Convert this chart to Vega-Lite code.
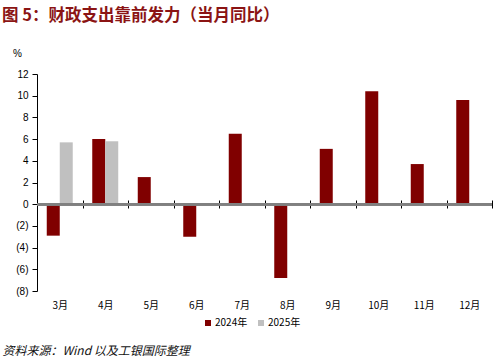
{
  "$schema": "https://vega.github.io/schema/vega-lite/v6.json",
  "width": 455,
  "height": 217,
  "autosize": {"type": "none"},
  "padding": {"left": 37, "top": 74, "right": 5, "bottom": 71},
  "background": "white",
  "config": {
    "view": {"stroke": null},
    "font": "Noto Sans CJK SC",
    "axis": {"labelOverlap": false}
  },
  "title": {
    "text": "图 5：财政支出靠前发力（当月同比）",
    "anchor": "start",
    "frame": "group",
    "dx": -35,
    "offset": 24,
    "fontSize": 16.5,
    "fontWeight": "bold",
    "color": "#8B1414",
    "font": "Noto Sans CJK SC"
  },
  "data": {
    "values": [
      {"month": "3月", "series": "2024年", "value": -2.9},
      {"month": "3月", "series": "2025年", "value": 5.7},
      {"month": "4月", "series": "2024年", "value": 6.0},
      {"month": "4月", "series": "2025年", "value": 5.8},
      {"month": "5月", "series": "2024年", "value": 2.5},
      {"month": "6月", "series": "2024年", "value": -3.0},
      {"month": "7月", "series": "2024年", "value": 6.5},
      {"month": "8月", "series": "2024年", "value": -6.8},
      {"month": "9月", "series": "2024年", "value": 5.1},
      {"month": "10月", "series": "2024年", "value": 10.4},
      {"month": "11月", "series": "2024年", "value": 3.7},
      {"month": "12月", "series": "2024年", "value": 9.6}
    ]
  },
  "layer": [
    {
      "mark": {"type": "bar"},
      "encoding": {
        "x": {
          "field": "month",
          "type": "nominal",
          "sort": ["3月","4月","5月","6月","7月","8月","9月","10月","11月","12月"],
          "scale": {"paddingInner": 0, "paddingOuter": 0},
          "axis": {
            "title": "资料来源：Wind 以及工银国际整理",
            "titleX": -35,
            "titleY": 150,
            "titleAlign": "left",
            "titleBaseline": "middle",
            "titleAnchor": "start",
            "titleFontSize": 12,
            "titleFontWeight": "normal",
            "titleFontStyle": "italic",
            "titleColor": "#111111",
            "offset": -91,
            "domain": false,
            "ticks": true,
            "tickBand": "extent",
            "tickSize": 8,
            "tickColor": "#000000",
            "tickWidth": 1,
            "labelAngle": 0,
            "labelPadding": 92,
            "labelFontSize": 10,
            "labelColor": "#000000"
          }
        },
        "xOffset": {
          "field": "series",
          "type": "nominal",
          "scale": {"domain": ["2024年", "2025年"], "paddingOuter": 0.75, "paddingInner": 0}
        },
        "y": {
          "field": "value",
          "type": "quantitative",
          "scale": {"domain": [-8, 12], "nice": false, "zero": false},
          "axis": {
            "title": "%",
            "titleAngle": 0,
            "titleX": -20,
            "titleY": -21,
            "titleAlign": "center",
            "titleBaseline": "middle",
            "titleFont": "Liberation Sans",
            "titleFontSize": 10,
            "titleFontWeight": "normal",
            "titleColor": "#000000",
            "values": [-8, -6, -4, -2, 0, 2, 4, 6, 8, 10, 12],
            "labelExpr": "datum.value < 0 ? '(' + abs(datum.value) + ')' : datum.label",
            "labelOverlap": false,
            "grid": false,
            "domainColor": "#000000",
            "tickColor": "#000000",
            "tickSize": 5,
            "labelPadding": 4,
            "labelFont": "Liberation Sans",
            "labelFontSize": 10,
            "labelColor": "#000000"
          }
        },
        "color": {
          "field": "series",
          "type": "nominal",
          "scale": {"domain": ["2024年", "2025年"], "range": ["#800000", "#C0C0C0"]},
          "legend": {
            "title": null,
            "orient": "none",
            "legendX": 166,
            "legendY": 244,
            "direction": "horizontal",
            "symbolType": "square",
            "symbolSize": 36,
            "symbolStrokeWidth": 0,
            "labelFontSize": 10,
            "labelColor": "#000000",
            "labelOffset": 2,
            "columnPadding": 8
          }
        }
      }
    },
    {
      "mark": {"type": "rule", "color": "#808080", "strokeWidth": 2},
      "encoding": {
        "y": {
          "datum": 0,
          "type": "quantitative",
          "axis": {
            "title": "%",
            "titleAngle": 0,
            "titleX": -20,
            "titleY": -21,
            "titleAlign": "center",
            "titleBaseline": "middle",
            "titleFont": "Liberation Sans",
            "titleFontSize": 10,
            "titleFontWeight": "normal",
            "titleColor": "#000000",
            "values": [-8, -6, -4, -2, 0, 2, 4, 6, 8, 10, 12],
            "labelExpr": "datum.value < 0 ? '(' + abs(datum.value) + ')' : datum.label",
            "labelOverlap": false,
            "grid": false,
            "domainColor": "#000000",
            "tickColor": "#000000",
            "tickSize": 5,
            "labelPadding": 4,
            "labelFont": "Liberation Sans",
            "labelFontSize": 10,
            "labelColor": "#000000"
          }
        }
      }
    }
  ]
}
